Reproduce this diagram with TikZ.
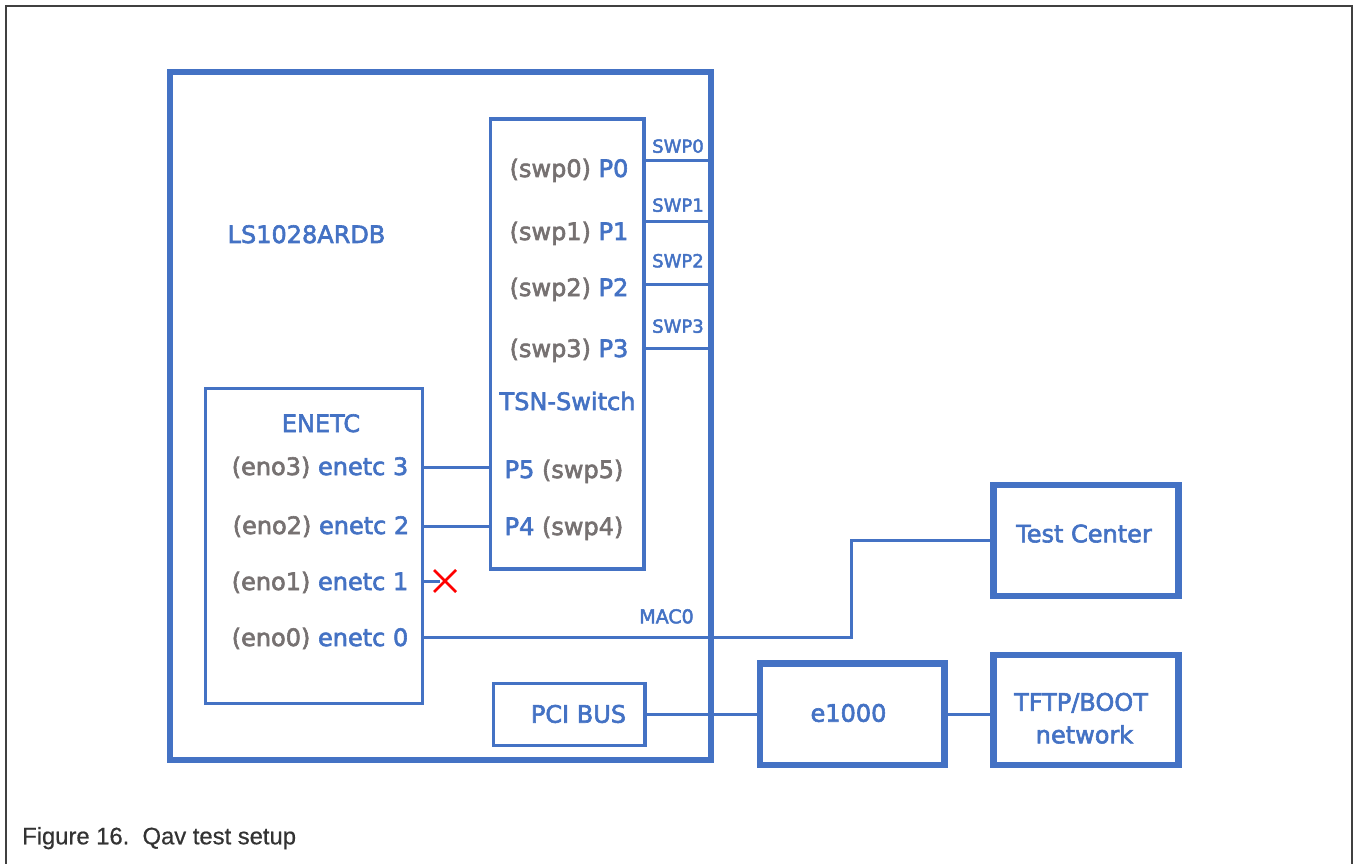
\documentclass[tikz,border=0pt]{standalone}
\usepackage{fontspec}
\setmainfont{DejaVu Sans}[FakeBold=2.5]
\newfontfamily\capfont{Liberation Sans}[FakeBold=0.6]
\usepackage{tikz}
\definecolor{boxblue}{HTML}{4472C4}
\definecolor{txtgray}{HTML}{767171}
\definecolor{framegray}{HTML}{404040}
\definecolor{capgray}{HTML}{333333}
\newcommand{\gr}[1]{\textcolor{txtgray}{#1}}

\begin{document}
\begin{tikzpicture}[x=1pt,y=-1pt,join=miter, % Qav test setup
    heavy/.style={draw=boxblue,line width=6pt,inner sep=0pt,outer sep=0pt},
    light/.style={draw=boxblue,line width=3.5pt,inner sep=0pt,outer sep=0pt},
    wire/.style={draw=boxblue,line width=3pt},
    lbl/.style={text=boxblue,anchor=base,inner sep=0pt,font=\fontsize{24}{28}\selectfont},
    tag/.style={text=boxblue,anchor=base,inner sep=0pt,font=\fontsize{18}{20}\selectfont}]
       \useasboundingbox (0,0) rectangle (1353,864);
       \draw[framegray,line width=2pt](6,864)--(6,6)--(1352,6)--(1352,864);
       \node[heavy,minimum width=541.5pt,minimum height=687.5pt] (board) at (440.25,416.25) {};
       \node[light,minimum width=153.5pt,minimum height=450pt] (tsn) at (567.25,344) {};
       \node[light,minimum width=217pt,minimum height=315pt] (enetc) at (314,546) {};
       \node[light,minimum width=151.5pt,minimum height=62pt] (pci) at (569.25,714.5) {};
       \node[heavy,line width=6.5pt,minimum width=185pt,minimum height=111pt] (test) at (1086,540.5) {};
       \node[heavy,line width=6.5pt,minimum width=184.5pt,minimum height=101.5pt] (nic) at (852.25,714.25) {};
       \node[heavy,line width=6.5pt,minimum width=185pt,minimum height=110pt] (tftp) at (1086,710) {};
       \node[lbl] (brdname) at (306.5,243) {LS1028ARDB};
       \node[lbl] (enetcname) at (321,432) {ENETC};
       \node[lbl] (e3) at (320,475) {\gr{(eno3)} enetc 3};
       \node[lbl] (e2) at (321,534) {\gr{(eno2)} enetc 2};
       \node[lbl] (e1) at (320,590) {\gr{(eno1)} enetc 1};
       \node[lbl] (e0) at (320,646) {\gr{(eno0)} enetc 0};
       \node[lbl] (p0) at (569,177) {\gr{(swp0)} P0};
       \node[lbl] (p1) at (569,240) {\gr{(swp1)} P1};
       \node[lbl] (p2) at (569,296) {\gr{(swp2)} P2};
       \node[lbl] (p3) at (569,357) {\gr{(swp3)} P3};
       \node[lbl] (tsnname) at (567.5,410) {TSN-Switch};
       \node[lbl] (p5) at (564,478) {P5 \gr{(swp5)}};
       \node[lbl] (p4) at (564,535) {P4 \gr{(swp4)}};
       \node[tag] (t0) at (678,152.7) {SWP0};
       \node[tag] (t1) at (678,211.7) {SWP1};
       \node[tag] (t2) at (678,267.3) {SWP2};
       \node[tag] (t3) at (678,332.7) {SWP3};
       \node[tag,font=\fontsize{19}{21}\selectfont] (mac) at (666.5,623.3) {MAC0};
       \node[lbl] (pciname) at (578.5,722.7) {PCI BUS};
       \node[lbl] (testname) at (1084,542.3) {Test Center};
       \node[lbl] (nicname) at (848.5,721.7) {e1000};
       \node[lbl] (tftpname) at (1081,710.7) {TFTP/BOOT};
       \node[lbl] (netname) at (1084.5,743.3) {network};
       \node[anchor=base west,inner sep=0pt,text=capgray,font=\capfont\fontsize{23.8}{28}\selectfont] (caption) at (22,844.3) {Figure 16.\ \ Qav test setup};
       \coordinate (sw0) at (644,160.5);
       \coordinate (sw1) at (644,221.5);
       \coordinate (sw2) at (644,284.5);
       \coordinate (sw3) at (644,348);
       \foreach \s in {sw0,sw1,sw2,sw3}
          \draw[wire] (\s) -- (\s -| board.east);
       \draw[wire] (enetc.east |- e3.center) -- (tsn.west |- e3.center);
       \draw[wire] (enetc.east |- e2.center) -- (tsn.west |- e2.center);
       \coordinate (cut) at (445,581);
       \draw[wire] (enetc.east |- cut) -- ++(17,0);
       \draw[red,line width=2.5pt] (cut) +(-11,-11) -- +(11,11) (cut) +(-11,11) -- +(11,-11);
       \coordinate (bend) at (851,637);
       \draw[wire] (enetc.east |- bend) -- (bend) |- (test.west);
       \draw[wire] (pci.east) -- (pci.east -| nic.west);
       \draw[wire] (nic.east) -- (nic.east -| tftp.west);
\end{tikzpicture}
\end{document}
